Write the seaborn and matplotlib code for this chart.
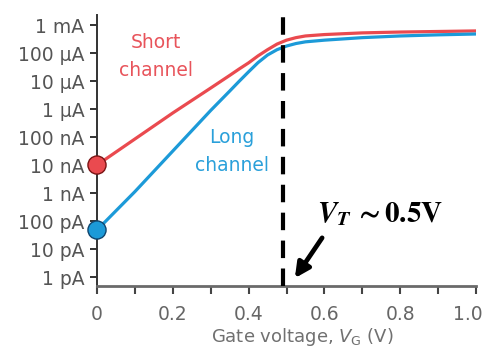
import matplotlib
matplotlib.use("Agg")
import matplotlib.pyplot as plt
import matplotlib.transforms as mtransforms
import pandas as pd
import seaborn as sns

# Gate voltage sweep (V) and log10 of the drain current (A) for each device
gate_voltage = [0.0, 0.1, 0.2, 0.3, 0.35, 0.375, 0.4, 0.425, 0.45, 0.475, 0.5,
                0.525, 0.55, 0.6, 0.7, 0.8, 0.9, 1.0]
short_log_current = [-8.0, -7.07, -6.14, -5.25, -4.8, -4.57, -4.35, -4.1, -3.88, -3.68,
                     -3.54, -3.45, -3.39, -3.34, -3.28, -3.25, -3.23, -3.21]
long_log_current = [-10.32, -8.95, -7.5, -6.05, -5.36, -5.01, -4.67, -4.34, -4.07, -3.88,
                    -3.75, -3.66, -3.6, -3.54, -3.45, -3.39, -3.35, -3.32]

# Off-state current at V_G = 0
off_voltage = [0.0, 0.0]
off_log_current = [-8.0, -10.32]
off_device = ["Short channel", "Long channel"]

current_decades = [-12, -11, -10, -9, -8, -7, -6, -5, -4, -3]
current_labels = ["1 pA", "10 pA", "100 pA", "1 nA", "10 nA", "100 nA",
                  "1 µA", "10 µA", "100 µA", "1 mA"]
voltage_ticks = [0.0, 0.2, 0.4, 0.6, 0.8, 1.0]
voltage_tick_labels = ["0", "0.2", "0.4", "0.6", "0.8", "1.0"]
minor_voltage_ticks = [0.1, 0.3, 0.5, 0.7, 0.9]
threshold_voltage = 0.49

RED = "#ea4a4f"
BLUE = "#1c9ad8"

sns.set_theme(style="ticks")
plt.rcParams["font.family"] = ["DejaVu Sans"]

curves = pd.DataFrame({
    "Gate voltage": gate_voltage * 2,
    "log current": short_log_current + long_log_current,
    "device": ["Short channel"] * len(gate_voltage) + ["Long channel"] * len(gate_voltage),
})
off_points = pd.DataFrame({"Gate voltage": off_voltage,
                           "log current": off_log_current,
                           "device": off_device})

fig = plt.figure(figsize=(4.86, 3.56), dpi=100)
ax = fig.add_axes([97 / 486, 1 - 286 / 356, 379 / 486, 273 / 356])

palette = {"Short channel": RED, "Long channel": BLUE}
sns.lineplot(data=curves, x="Gate voltage", y="log current", hue="device",
             palette=palette, linewidth=2.3, legend=False, ax=ax, sort=True)

ax.set_xlim(0, 1.0)
ax.set_ylim(-12.32, -2.57)

# Threshold voltage marker
ax.plot([threshold_voltage, threshold_voltage], [-12.32, -2.57], color="black",
        linewidth=3, dashes=(4.2, 2.5), solid_capstyle="butt", dash_capstyle="butt",
        clip_on=False, zorder=3)

sns.scatterplot(data=off_points, x="Gate voltage", y="log current", hue="device",
                palette=palette, s=170, legend=False, ax=ax, zorder=5)
for coll in ax.collections:
    coll.set_clip_on(False)
    coll.set_edgecolors(["#7a1414", "#10456e"])
    coll.set_linewidth(1.0)

# Device labels
ax.text(0.156, -3.63, "Short", color="#e8545b", fontsize=13.5, ha="center", va="center")
ax.text(0.156, -4.63, "channel", color="#e8545b", fontsize=13.5, ha="center", va="center")
ax.text(0.356, -7.0, "Long", color="#2aa0da", fontsize=13.5, ha="center", va="center")
ax.text(0.356, -8.0, "channel", color="#2aa0da", fontsize=13.5, ha="center", va="center")

# Threshold annotation
ax.text(0.58, -10.04, r"$\mathbfit{V}_{\mathbfit{T}}\,\mathbf{\sim 0.5V}$",
        fontsize=21, ha="left", va="baseline", color="black", math_fontfamily="stix")
ax.annotate("", xy=(0.522, -12.04), xytext=(0.594, -10.6),
            arrowprops=dict(arrowstyle="-|>", color="black", lw=3.4, mutation_scale=22,
                            shrinkA=0, shrinkB=0), annotation_clip=False)

# Axes styling
ax.set_yticks(current_decades)
ax.set_yticklabels(current_labels)
ax.set_xticks(voltage_ticks)
ax.set_xticklabels(voltage_tick_labels)
ax.set_xticks(minor_voltage_ticks, minor=True)

ax.tick_params(axis="y", length=5, width=1.4, color="#333333", labelsize=13.5,
               labelcolor="#555555", pad=4)
ax.tick_params(axis="x", which="both", length=6, width=1.5, color="#444444",
               labelsize=13.5, labelcolor="#666666", pad=8)

# keep the last voltage label inside the canvas
last_label = ax.get_xticklabels()[-1]
last_label.set_transform(last_label.get_transform()
                         + mtransforms.ScaledTranslation(-8 / 100, 0, fig.dpi_scale_trans))

ax.set_ylabel("")
ax.set_xlabel(r"Gate voltage, $V_{\mathrm{G}}$ (V)", fontsize=13, color="#707070")
ax.xaxis.set_label_coords(0.541, -0.145)

for side in ("top", "right"):
    ax.spines[side].set_visible(False)
ax.spines["left"].set_color("#333333")
ax.spines["left"].set_linewidth(1.4)
ax.spines["left"].set_bounds(-12.32, -2.64)
ax.spines["bottom"].set_color("#6a6a6a")
ax.spines["bottom"].set_linewidth(2.0)

fig.savefig("out.png", dpi=100)
